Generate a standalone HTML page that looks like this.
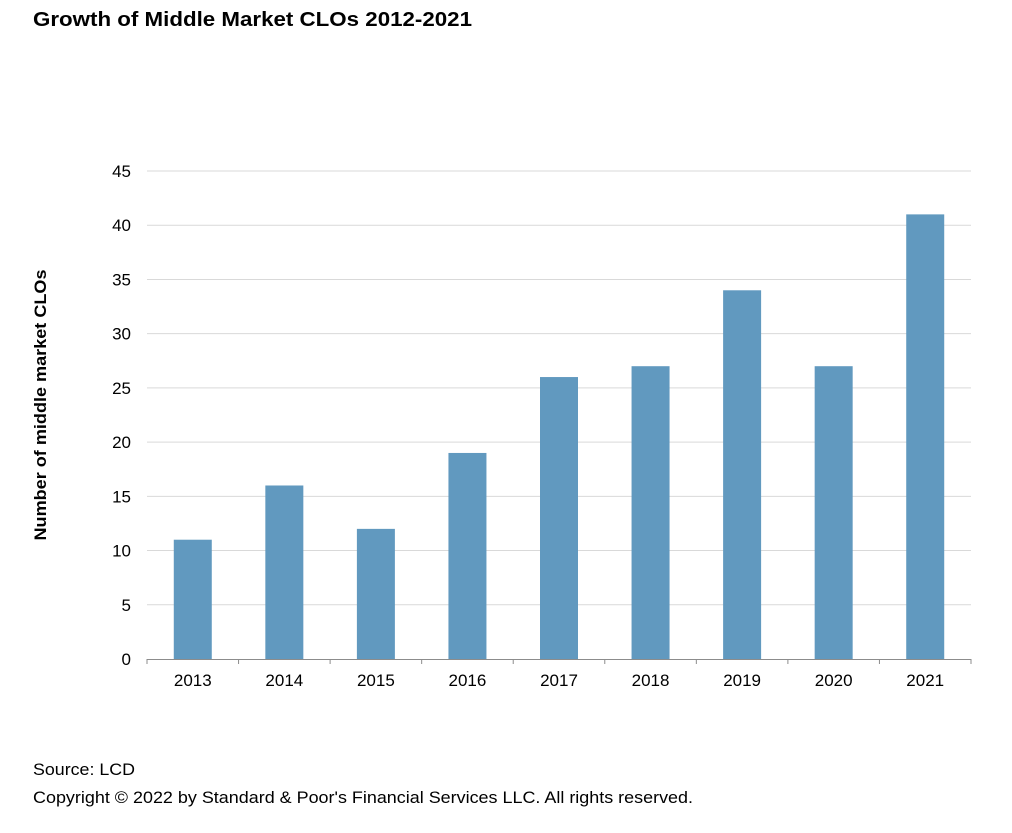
<!DOCTYPE html>
<html><head><meta charset="utf-8">
<style>
body{margin:0;background:#fff;width:1012px;height:828px;overflow:hidden;font-family:"Liberation Sans",Arial,sans-serif;}
</style></head>
<body>
<svg width="1012" height="828" xmlns="http://www.w3.org/2000/svg" style="font-family:'Liberation Sans',Arial,sans-serif">
<text x="33" y="26" font-size="20" font-weight="bold" fill="#000" textLength="439" lengthAdjust="spacingAndGlyphs">Growth of Middle Market CLOs 2012-2021</text>
<g id="grid"></g>
<g id="yticks"></g>
<g id="bars"></g>
<g id="xticks"></g>
<text transform="translate(46,405) rotate(-90)" text-anchor="middle" font-size="17" font-weight="bold" textLength="271" lengthAdjust="spacingAndGlyphs">Number of middle market CLOs</text>
<text x="33" y="775" font-size="17" textLength="102" lengthAdjust="spacingAndGlyphs">Source: LCD</text>
<text x="33" y="803" font-size="17" textLength="660" lengthAdjust="spacingAndGlyphs">Copyright © 2022 by Standard &amp; Poor's Financial Services LLC. All rights reserved.</text>
</svg>
<script>
const categories = ["2013","2014","2015","2016","2017","2018","2019","2020","2021"];
const values = [11,16,12,19,26,27,34,27,41];
const yTicks = [0,5,10,15,20,25,30,35,40,45];
const NS="http://www.w3.org/2000/svg";
const x0=147,x1=971,y0=659,y1=171,yMax=45;
const y=v=>y0-(v/yMax)*(y0-y1);
const band=(x1-x0)/categories.length;
const xc=i=>x0+band*(i+0.5);
function mk(tag,attrs,parent){const e=document.createElementNS(NS,tag);for(const k in attrs)e.setAttribute(k,attrs[k]);parent.appendChild(e);return e;}
const grid=document.getElementById('grid'),yt=document.getElementById('yticks'),bars=document.getElementById('bars'),xt=document.getElementById('xticks');
yTicks.forEach(t=>{
  if(t>0){const l=mk('line',{x1:x0,x2:x1,y1:y(t),y2:y(t),stroke:'#d9d9d9','stroke-width':1},grid);
  
  }
  const tx=mk('text',{x:131,y:y(t)+6,'text-anchor':'end','font-size':17,fill:'#000'},yt);
  tx.textContent=t;
  
  
});
values.forEach((v,i)=>{
  const r=mk('rect',{x:xc(i)-19,y:y(v),width:38,height:y0-y(v),fill:'#6199bf'},bars);
  
  
  const tx=mk('text',{x:xc(i),y:y0+27,'text-anchor':'middle','font-size':17,fill:'#000'},xt);
  tx.textContent=categories[i];
  
  
});
const ax=mk('line',{x1:x0,x2:x1,y1:y0+0.5,y2:y0+0.5,stroke:'#8c8c8c','stroke-width':1},xt);


for(let i=0;i<=categories.length;i++){
  const tk=mk('line',{x1:x0+band*i,x2:x0+band*i,y1:y0,y2:y0+5,stroke:'#8c8c8c','stroke-width':1},xt);
  
  
}
</script>
</body></html>
